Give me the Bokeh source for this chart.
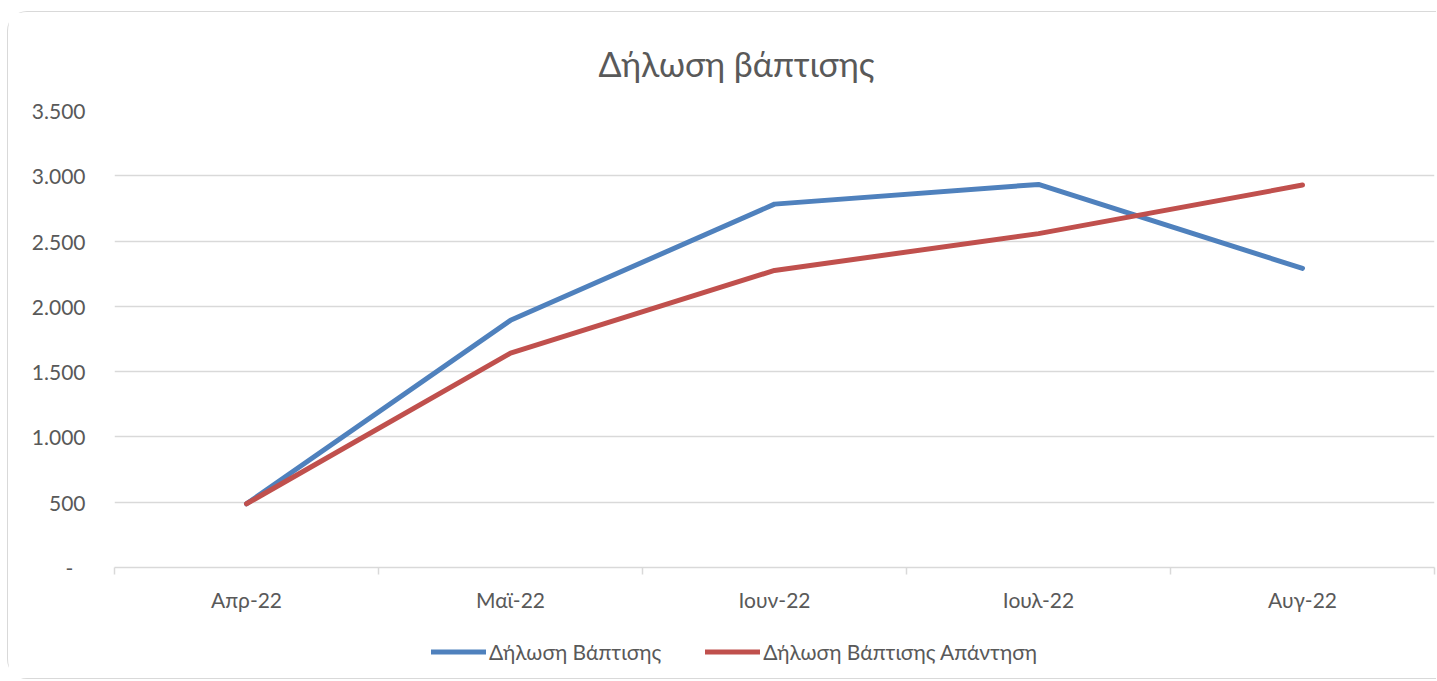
from bokeh.plotting import figure
from bokeh.layouts import column
from bokeh.models import (Range1d, FixedTicker, Legend, LegendItem, ColumnDataSource, Title)
from bokeh.embed import file_html
from bokeh.resources import INLINE

categories = ["Απρ-22", "Μαϊ-22", "Ιουν-22", "Ιουλ-22", "Αυγ-22"]
baptism = [488, 1893, 2783, 2934, 2291]
baptism_reply = [488, 1642, 2275, 2557, 2929]
y_ticks = [0, 500, 1000, 1500, 2000, 2500, 3000, 3500]
y_tick_labels = ["-\u2007", "500", "1.000", "1.500", "2.000", "2.500", "3.000", "3.500"]
series_names = ["Δήλωση Βάπτισης", "Δήλωση Βάπτισης Απάντηση"]
series_colors = ["#4F81BD", "#C0504D"]
chart_title = "Δήλωση βάπτισης"

FONT = "Lato"
TXT = "#595959"
GRID = "#D9D9D9"

xs = list(range(len(categories)))
src = ColumnDataSource(dict(x=xs, a=baptism, b=baptism_reply))

p = figure(frame_width=1320, frame_height=457, output_backend="svg", toolbar_location=None,
           x_range=Range1d(-0.5, len(categories) - 0.5), y_range=Range1d(0, 3500),
           min_border_left=106, min_border_right=2, min_border_top=98, min_border_bottom=53)
p.outline_line_color = None
p.background_fill_color = "white"
p.border_fill_color = "white"

t = Title(text=chart_title, align="left", text_font=FONT, text_font_size="34px",
          text_color=TXT, text_font_style="normal", offset=484, standoff=54)
p.add_layout(t, "above")

p.line("x", "a", source=src, line_color=series_colors[0], line_width=5, line_cap="round", line_join="round")
p.line("x", "b", source=src, line_color=series_colors[1], line_width=5, line_cap="round", line_join="round")

# x axis
p.xaxis.ticker = FixedTicker(ticks=xs, minor_ticks=[i - 0.5 for i in range(len(categories) + 1)])
p.xaxis.major_label_overrides = {i: c for i, c in zip(xs, categories)}
p.xaxis.major_tick_line_color = None
p.xaxis.major_tick_out = 0
p.xaxis.major_tick_in = 0
p.xaxis.minor_tick_line_color = GRID
p.xaxis.minor_tick_out = 7
p.xaxis.minor_tick_in = 0
p.xaxis.minor_tick_line_width = 1.5
p.xaxis.axis_line_color = GRID
p.xaxis.axis_line_width = 1.5
p.xaxis.major_label_text_font = FONT
p.xaxis.major_label_text_font_size = "21px"
p.xaxis.major_label_text_color = TXT
p.xaxis.major_label_standoff = 12
p.xgrid.grid_line_color = None

# y axis
p.yaxis.ticker = FixedTicker(ticks=y_ticks, minor_ticks=[])
p.yaxis.major_label_overrides = {v: l for v, l in zip(y_ticks, y_tick_labels)}
p.yaxis.axis_line_color = None
p.yaxis.major_tick_line_color = None
p.yaxis.major_tick_out = 0
p.yaxis.major_tick_in = 0
p.yaxis.minor_tick_line_color = None
p.yaxis.major_label_text_font = FONT
p.yaxis.major_label_text_font_size = "21px"
p.yaxis.major_label_text_color = TXT
p.yaxis.major_label_standoff = 29
p.ygrid.grid_line_color = GRID
p.ygrid.grid_line_width = 1.5
p.ygrid.ticker = FixedTicker(ticks=y_ticks[1:])

# legend strip below the chart (series drawn out of view, only their legend swatches show)
p2 = figure(frame_width=1320, frame_height=58, output_backend="svg", toolbar_location=None,
            x_range=Range1d(100, 101), y_range=Range1d(100000, 100001),
            x_axis_type=None, y_axis_type=None,
            min_border_left=106, min_border_right=2, min_border_top=0, min_border_bottom=0)
p2.outline_line_color = None
p2.background_fill_color = "white"
p2.border_fill_color = "white"
proxies = [p2.line("x", col, source=src, line_color=c, line_width=5, line_cap="round")
           for col, c in zip(["a", "b"], series_colors)]

legend = Legend(items=[LegendItem(label=n, renderers=[r]) for n, r in zip(series_names, proxies)],
                orientation="horizontal", location=(317, 14),
                label_text_font=FONT, label_text_font_size="21px", label_text_color=TXT,
                glyph_width=55, glyph_height=25, label_height=25, label_standoff=3, spacing=44,
                border_line_color=None, background_fill_alpha=0, margin=0, padding=0)
p2.add_layout(legend, "center")

layout = column(p, p2, spacing=0)
layout.styles = {"border": "1.5px solid #D9D9D9", "border-right": "none",
                 "border-radius": "20px 0 0 20px", "margin-left": "7px", "margin-top": "11px"}

open("out.html", "w").write(file_html(layout, INLINE))
